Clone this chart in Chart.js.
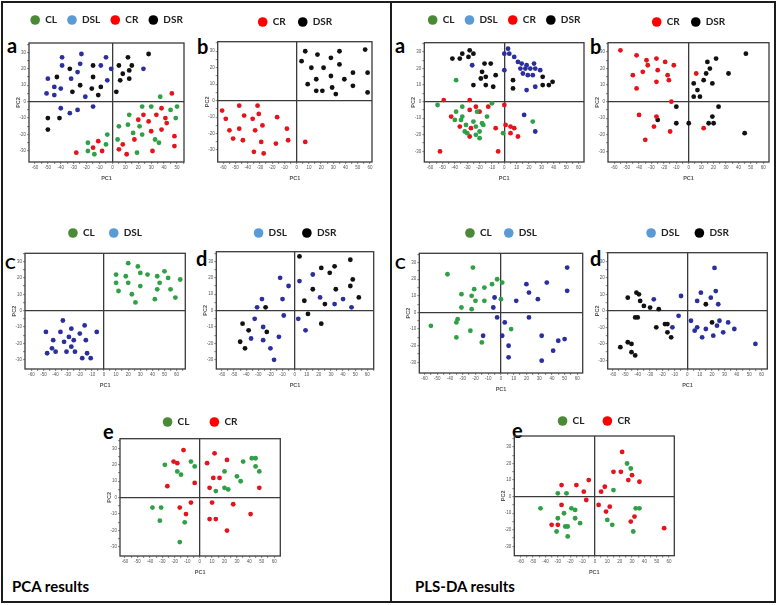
<!DOCTYPE html>
<html>
<head>
<meta charset="utf-8">
<script src="https://cdn.jsdelivr.net/npm/chart.js@4.4.0/dist/chart.umd.min.js"></script>
<style>
  html, body { margin: 0; padding: 0; background: #fff; }
  body { width: 778px; height: 605px; position: relative; overflow: hidden; font-family: Lato, 'Open Sans', sans-serif; }
  #outer { position: absolute; left: 1px; top: 1px; width: 775px; height: 602px; border: 2px solid #1c1c1c; box-sizing: border-box; }
  #divider { position: absolute; left: 390px; top: 1px; width: 2px; height: 602px; background: #1c1c1c; }
  canvas { position: absolute; }
  .tag { position: absolute; font-weight: 700; font-size: 20px; line-height: 1; color: #000; }
  .tag.big { font-size: 16px; }
  .foot { position: absolute; font-weight: 700; font-size: 15px; line-height: 1; color: #000; }
</style>
</head>
<body>
<div id="outer"></div>
<div id="divider"></div>

<div class="tag" style="left:7px;top:35px">a</div>
<div class="tag" style="left:197px;top:36px">b</div>
<div class="tag" style="left:395px;top:35px">a</div>
<div class="tag" style="left:590px;top:36px">b</div>
<div class="tag big" style="left:5px;top:255px">C</div>
<div class="tag" style="left:196px;top:248px">d</div>
<div class="tag big" style="left:395px;top:255px">C</div>
<div class="tag" style="left:590px;top:248px">d</div>
<div class="tag" style="left:103px;top:421px">e</div>
<div class="tag" style="left:512px;top:420px">e</div>

<div class="foot" style="left:12px;top:579px">PCA results</div>
<div class="foot" style="left:415px;top:579px">PLS-DA results</div>

<script>
// axis labels
const xTickLabels = [-60, -50, -40, -30, -20, -10, 0, 10, 20, 30, 40, 50, 60];
const yTickLabels = [-30, -20, -10, 0, 10, 20, 30];

// group names
const CL = 'CL', DSL = 'DSL', CR = 'CR', DSR = 'DSR';

// PCA a
const pcaA_CL = [[37,3],[50,-3],[45,-5],[49,-10],[30,-3],[23,-3],[13,-8],[12,-14],[5,-15],[21,-15],[16,-19],[23,-20],[36,-25],[33,-23],[-4,-20],[4,-23],[-5,-26],[-19,-25],[-19,-30],[-14,-32],[19,-31]];
const pcaA_DSL = [[-39,27],[-24,29],[-5,27],[-50,14],[-39,22],[-25,23],[-27,18],[-9,22],[-1,20],[24,20],[-32,14],[-4,13],[-45,9],[-40,8],[-21,3],[-51,5],[-45,4],[-15,-3],[-40,-4],[-33,-7],[-27,-5]];
const pcaA_CR = [[46,5],[38,-4],[24,-8],[34,-8],[41,-10],[20,-11],[28,-12],[42,-13],[38,-17],[30,-18],[17,-23],[8,-26],[48,-21],[48,-27],[5,-29],[11,-32],[31,-30],[-11,-24],[-15,-28],[-8,-30],[-28,-31]];
const pcaA_DSR = [[-33,20],[-43,15],[-15,22],[-15,15],[-25,10],[-31,6],[-16,8],[-9,9],[-11,4],[5,22],[12,27],[28,29],[15,22],[13,19],[8,17],[6,13],[13,14],[3,6],[-50,-10],[-41,-10],[-50,-17]];

// PCA b
const pcaB_CR = [[-61,-6],[-58,-11],[-47,-3],[-32,-3],[-43,-9],[-31,-8],[-36,-11],[-16,-10],[-55,-18],[-47,-17],[-28,-15],[-34,-18],[-8,-17],[-52,-23],[-44,-24],[-29,-25],[-17,-26],[-7,-24],[-35,-31],[-27,-32],[7,-25]];
const pcaB_DSR = [[7,30],[4,24],[17,28],[28,26],[35,30],[56,31],[12,20],[22,20],[35,22],[28,15],[16,13],[39,13],[46,17],[58,17],[9,10],[29,8],[46,9],[16,6],[21,6],[32,4],[58,5]];

// PLS-DA a
const plsA_CL = [[-39,13],[-54,-2],[-10,-1],[-39,-6],[-34,-3],[-22,-6],[-14,-9],[-40,-11],[-34,-9],[-35,-11],[-25,-12],[-18,-13],[-17,-14],[-31,-14],[-23,-15],[-32,-18],[-30,-19],[-20,-18],[-23,-20],[-20,-22],[-1,-19],[23,-12]];
const plsA_DSL = [[3,32],[4,29],[8,27],[0,29],[0,19],[-26,22],[11,24],[14,23],[18,22],[24,23],[13,20],[17,20],[21,20],[25,20],[29,19],[15,17],[19,16],[23,16],[18,7],[25,9],[16,-8],[25,-18]];
const plsA_CR = [[-49,1],[-28,1],[-23,-3],[-13,-3],[-28,-5],[-20,-6],[-43,-9],[-36,-15],[-27,-16],[-28,-21],[-7,-16],[0,-2],[1,-14],[5,-15],[8,-16],[5,-19],[11,-21],[-52,-30],[-5,-30]];
const plsA_DSR = [[-42,26],[-36,26],[-34,29],[-28,31],[-29,27],[-25,29],[-16,23],[-11,23],[-18,18],[-15,15],[-7,16],[-19,14],[-25,10],[-15,10],[-9,9],[7,13],[7,8],[31,15],[31,10],[36,10],[39,12]];

// PLS-DA b
const plsB_CR = [[-55,31],[-42,28],[-34,25],[-26,26],[-19,24],[-12,22],[-33,22],[-25,19],[-37,18],[-45,16],[-17,16],[-16,13],[-26,12],[-42,8],[-14,0],[6,17],[-40,-8],[-26,-9],[-28,-15],[-15,-18],[-35,-23],[12,-16]];
const plsB_DSR = [[46,29],[15,24],[22,26],[17,20],[14,17],[32,17],[12,13],[4,11],[19,11],[7,7],[4,3],[9,3],[-10,-3],[24,-3],[-25,-11],[-10,-13],[0,-13],[16,-13],[19,-9],[20,-13],[45,-19]];

// PCA c
const pcaC_CL = [[20,29],[28,27],[10,22],[18,21],[30,23],[36,22],[50,24],[44,21],[53,20],[63,19],[10,17],[20,17],[30,15],[46,17],[12,12],[23,10],[44,13],[55,13],[59,8],[26,5],[42,7]];
const pcaC_DSL = [[-34,-6],[-16,-9],[-48,-13],[-36,-13],[-27,-11],[-6,-13],[-42,-18],[-33,-19],[-29,-16],[-25,-18],[-20,-14],[-15,-18],[-43,-23],[-27,-22],[-47,-26],[-40,-25],[-31,-25],[-24,-25],[-14,-26],[-18,-29],[-11,-29]];

// PCA d
const pcaD_DSL = [[-12,20],[-5,15],[4,18],[15,22],[-27,7],[-10,7],[-31,2],[21,8],[33,4],[40,7],[47,2],[-9,-3],[-33,-5],[-26,-10],[3,-5],[9,-12],[-36,-17],[-26,-18],[-13,-16],[-20,-23],[-17,-30]];
const pcaD_DSR = [[4,33],[22,26],[33,27],[46,31],[29,23],[48,19],[15,13],[34,13],[46,15],[53,8],[8,6],[25,4],[-24,2],[11,-2],[22,-8],[-43,-8],[-38,-12],[-23,-13],[-45,-19],[-41,-23]];

// PLS-DA c
const plsC_CL = [[-42,23],[-22,27],[-3,20],[-7,17],[1,18],[-13,15],[-21,14],[-31,11],[-23,10],[-13,7],[-20,7],[0,8],[-31,3],[-23,2],[-34,-4],[-35,-6],[-55,-8],[-35,-15],[-24,-11],[8,-10],[-15,-18]];
const plsC_DSL = [[52,27],[52,13],[36,18],[20,17],[22,12],[29,8],[12,7],[-5,9],[-6,3],[-3,-3],[3,-6],[22,-3],[-14,-14],[1,-14],[32,-14],[45,-17],[50,-16],[6,-20],[41,-23],[6,-27],[32,-29]];

// PLS-DA d
const plsD_DSL = [[22,26],[-27,7],[-5,9],[11,11],[23,12],[8,6],[19,8],[25,4],[-7,-3],[-12,-10],[3,-6],[8,-10],[6,-12],[15,-11],[12,-16],[24,-9],[26,-6],[21,-15],[29,-13],[33,-7],[38,-11],[55,-20]];
const plsD_DSR = [[-48,8],[-41,11],[-39,10],[-38,6],[-35,3],[-30,2],[-23,1],[-42,-4],[-40,-4],[-25,-10],[-18,-8],[-16,-8],[-16,-13],[-13,-16],[15,4],[20,-7],[-48,-19],[-45,-20],[-54,-22],[-45,-25],[-42,-27]];

// PCA e
const pcaE_CL = [[-28,20],[-18,16],[-15,14],[-7,22],[-4,19],[20,16],[30,13],[33,10],[35,22],[42,24],[45,24],[45,19],[48,16],[20,6],[23,5],[13,4],[-38,-6],[-31,-6],[-32,-14],[-12,-15],[-16,-27]];
const pcaE_CR = [[-13,29],[12,27],[-21,22],[-18,21],[6,21],[22,23],[-4,9],[-26,7],[11,12],[16,12],[8,6],[48,6],[-7,-3],[10,-3],[-16,-6],[-11,-10],[27,-4],[41,-10],[8,-13],[13,-13],[22,-20]];

// PLS-DA e
const plsE_CL = [[26,20],[29,17],[15,4],[-30,2],[-23,2],[-44,-7],[-19,-7],[-16,-8],[33,-7],[36,-7],[-25,-10],[-30,-13],[-16,-13],[-12,-16],[10,-14],[14,-17],[-24,-18],[-22,-18],[-31,-21],[-22,-24],[31,-21]];
const plsE_CR = [[22,27],[15,15],[21,15],[27,10],[30,13],[36,9],[-27,7],[-15,7],[-5,10],[-9,3],[8,6],[5,3],[-7,-2],[3,-5],[12,-6],[9,-9],[-27,-5],[-35,-17],[-30,-17],[32,-12],[29,-15],[56,-19]];

// colours: dot colour in the plots, and the (lighter) legend swatch
const dotColor = { CL: '#2fa046', DSL: '#2b2f9e', CR: '#e5141c', DSR: '#111111' };
const keyColor = { CL: '#4b8a35', DSL: '#5b9bd5', CR: '#ff0000', DSR: '#000000' };

// frame of each plot in page pixels, axis range, legend row y and item spacing
const panels = [
  { l: 29,    t: 43,    r: 184,   b: 162,   x: [-64.6, 55.4], y: [-36.7, 35.7], key: 19.5, pad: 10, sets: [[CL, pcaA_CL], [DSL, pcaA_DSL], [CR, pcaA_CR], [DSR, pcaA_DSR]] },
  { l: 217.7, t: 41.7,  r: 372,   b: 162,   x: [-64.6, 61.6], y: [-37.2, 35.8], key: 22,   pad: 12, sets: [[CR, pcaB_CR], [DSR, pcaB_DSR]] },
  { l: 424.3, t: 42.7,  r: 584,   b: 162,   x: [-64.7, 64.4], y: [-36.4, 35.6], key: 20,   pad: 10, sets: [[CL, plsA_CL], [DSL, plsA_DSL], [CR, plsA_CR], [DSR, plsA_DSR]] },
  { l: 608,   t: 42.7,  r: 769,   b: 162,   x: [-65, 64.6],   y: [-36.4, 35.6], key: 22,   pad: 11, sets: [[CR, plsB_CR], [DSR, plsB_DSR]] },
  { l: 25,    t: 253.3, r: 185.3, b: 369,   x: [-65.3, 67.2], y: [-35.6, 35],   key: 233,  pad: 14, sets: [[CL, pcaC_CL], [DSL, pcaC_DSL]] },
  { l: 216.3, t: 251.7, r: 373.7, b: 369,   x: [-64.7, 65.3], y: [-35.6, 35.9], key: 233,  pad: 15, sets: [[DSL, pcaD_DSL], [DSR, pcaD_DSR]] },
  { l: 419.3, t: 253.3, r: 582.7, b: 373,   x: [-64.1, 64.2], y: [-36.4, 35.6], key: 233,  pad: 12, sets: [[CL, plsC_CL], [DSL, plsC_DSL]] },
  { l: 607.7, t: 252.7, r: 767.3, b: 369,   x: [-64.2, 64.6], y: [-35.2, 35.2], key: 233,  pad: 15, sets: [[DSL, plsD_DSL], [DSR, plsD_DSR]] },
  { l: 120,   t: 438.7, r: 280.3, b: 556,   x: [-64.1, 64.9], y: [-35.5, 35.9], key: 422,  pad: 20, sets: [[CL, pcaE_CL], [CR, pcaE_CR]] },
  { l: 514.3, t: 436,   r: 674.3, b: 555.7, x: [-65.2, 64.2], y: [-35.6, 36.6], key: 421,  pad: 18, sets: [[CL, plsE_CL], [CR, plsE_CR]] }
];

const KEY_FONT = 10, YW = 14, XH = 20;
const tickFont = { family: "'Liberation Sans', sans-serif", size: 4.5 };
const titleFont = { family: "'Liberation Sans', sans-serif", size: 5.5, weight: 'bold' };

// box round the plot area
const framePlugin = {
  id: 'frame',
  beforeDatasetsDraw(chart) {
    const { ctx, chartArea: a } = chart;
    ctx.save();
    ctx.strokeStyle = '#3a3a3a';
    ctx.lineWidth = 1.3;
    ctx.strokeRect(a.left, a.top, a.right - a.left, a.bottom - a.top);
    ctx.restore();
  }
};

const zeroLine = c => (c.tick && c.tick.value === 0) ? '#3a3a3a' : 'rgba(0,0,0,0)';

function marks(labels) {
  return labels.flatMap(v => [v, v + 5]);
}

function axis(labels, range, title, pos) {
  const all = marks(labels);
  return {
    type: 'linear',
    position: pos,
    min: range[0],
    max: range[1],
    afterBuildTicks: s => { s.ticks = all.filter(v => v >= s.min && v <= s.max).map(v => ({ value: v })); },
    ticks: {
      autoSkip: false, maxRotation: 0, padding: 1, color: '#555', font: tickFont,
      callback: v => labels.includes(v) ? String(v) : ''
    },
    grid: { color: zeroLine, lineWidth: 1.3, tickColor: '#666', tickLength: 2, tickWidth: 0.8 },
    border: { display: false },
    title: { display: true, text: title, color: '#555', font: titleFont, padding: pos === 'bottom' ? { top: 3, bottom: 0 } : { top: 0, bottom: 1 } }
  };
}

// empty axis, only used to reserve space
function spacer(pos, size) {
  return {
    type: 'linear', position: pos, display: true,
    ticks: { display: false }, grid: { display: false, drawTicks: false }, border: { display: false },
    afterFit: s => { if (pos === 'top') s.height = size; else s.width = size; }
  };
}

panels.forEach(p => {
  const cLeft = Math.round(p.l - YW);
  const cTop = Math.round(p.key - p.pad - KEY_FONT / 2);
  const w = Math.round(p.r + YW - cLeft);
  const h = Math.round(p.b + XH - cTop);
  const gap = p.t - cTop - (KEY_FONT + p.pad + 10);
  const yWidth = p.l - cLeft;
  const rWidth = w - (p.r - cLeft);
  const xHeight = h - (p.b - cTop);

  const canvas = document.createElement('canvas');
  canvas.width = w;
  canvas.height = h;
  canvas.style.left = cLeft + 'px';
  canvas.style.top = cTop + 'px';
  canvas.style.width = w + 'px';
  canvas.style.height = h + 'px';
  document.body.appendChild(canvas);

  const xScale = axis(xTickLabels, p.x, 'PC1', 'bottom');
  xScale.afterFit = s => { s.height = xHeight; };
  const yScale = axis(yTickLabels, p.y, 'PC2', 'left');
  yScale.afterFit = s => { s.width = yWidth; };

  new Chart(canvas.getContext('2d'), {
    type: 'scatter',
    data: {
      datasets: p.sets.map(([name, pts]) => ({
        label: name,
        data: pts,
        xAxisID: 'x',
        yAxisID: 'y',
        backgroundColor: dotColor[name],
        pointRadius: 2.4,
        pointBorderWidth: 0,
        keyColor: keyColor[name]
      }))
    },
    options: {
      responsive: false,
      animation: false,
      devicePixelRatio: 1,
      layout: { padding: 0 },
      scales: {
        x: xScale,
        y: yScale,
        gapTop: spacer('top', gap),
        gapRight: spacer('right', rWidth)
      },
      plugins: {
        tooltip: { enabled: false },
        legend: {
          display: true,
          position: 'top',
          labels: {
            usePointStyle: true,
            boxWidth: 10,
            boxHeight: 6.8,
            padding: p.pad,
            color: '#222',
            font: { family: 'Lato, sans-serif', size: KEY_FONT, weight: 'bold' },
            generateLabels: chart => chart.data.datasets.map((ds, i) => ({
              text: ds.label,
              fillStyle: ds.keyColor,
              strokeStyle: ds.keyColor,
              lineWidth: 0,
              pointStyle: 'circle',
              fontColor: '#222',
              hidden: false,
              datasetIndex: i
            }))
          }
        }
      }
    },
    plugins: [framePlugin]
  });
});
</script>
</body>
</html>
